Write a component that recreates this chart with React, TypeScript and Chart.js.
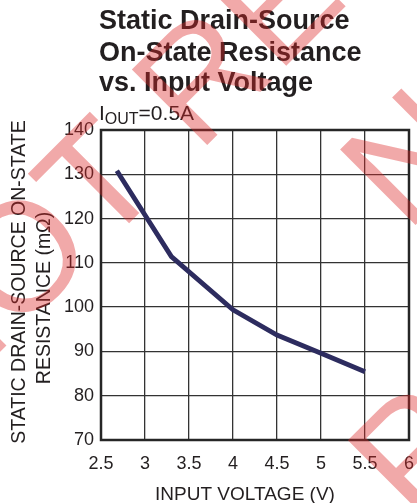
import React, { useEffect, useRef } from "react";
import { Chart, registerables } from "chart.js";

Chart.register(...registerables);

// ---- data ----
const voltage = [2.68, 3.3, 4.0, 4.5, 5.0, 5.5];
const resistance = [130.8, 111.4, 99.4, 93.7, 89.6, 85.4];

const xTickLabels = ["2.5", "3", "3.5", "4", "4.5", "5", "5.5", "6"];
const yTickLabels = ["70", "80", "90", "100", "110", "120", "130", "140"];

const titleLines = ["Static Drain-Source", "On-State Resistance", "vs. Input Voltage"];
const conditionMain = "I";
const conditionSub = "OUT";
const conditionRest = "=0.5A";
const yTitleLines = ["STATIC DRAIN-SOURCE ON-STATE", "RESISTANCE (mΩ)"];
const xTitle = "INPUT VOLTAGE (V)";
const watermarkLines = ["NOT RECOMMENDED", "NEW DESIGNS", "PRODUCT"];

const FONT = '"Liberation Sans", Arial, Helvetica, sans-serif';
const TEXT = "#231f20";

const decor = {
  id: "decor",
  beforeDatasetsDraw(chart: any) {
    const { ctx, chartArea: a } = chart;
    ctx.save();
    ctx.strokeStyle = "#262626";
    ctx.lineWidth = 2.5;
    ctx.strokeRect(a.left, a.top, a.right - a.left, a.bottom - a.top);
    ctx.restore();
  },
  afterDraw(chart: any) {
    const { ctx } = chart;
    ctx.save();
    ctx.fillStyle = TEXT;
    // title
    ctx.font = `bold 27px ${FONT}`;
    ctx.textAlign = "left";
    ctx.textBaseline = "alphabetic";
    const base = [29, 61, 91];
    titleLines.forEach((t, i) => ctx.fillText(t, 99, base[i]));
    // condition
    ctx.font = `21px ${FONT}`;
    ctx.fillText(conditionMain, 99, 120);
    let x = 99 + ctx.measureText(conditionMain).width;
    ctx.font = `16px ${FONT}`;
    ctx.fillText(conditionSub, x, 124);
    x += ctx.measureText(conditionSub).width;
    ctx.font = `21px ${FONT}`;
    ctx.fillText(conditionRest, x, 120);
    // x title
    ctx.font = `19px ${FONT}`;
    ctx.textAlign = "center";
    ctx.fillText(xTitle, 245, 500);
    // y title
    ctx.font = `19.5px ${FONT}`;
    const yPos = [
      { bx: 25, cy: 282 },
      { bx: 50, cy: 298 },
    ];
    yTitleLines.forEach((t, i) => {
      ctx.save();
      ctx.translate(yPos[i].bx, yPos[i].cy);
      ctx.rotate(-Math.PI / 2);
      ctx.textAlign = "center";
      ctx.fillText(t, 0, 0);
      ctx.restore();
    });
    // watermark
    ctx.save();
    ctx.fillStyle = "rgba(220,40,40,0.4)";
    ctx.font = `155px ${FONT}`;
    ctx.textAlign = "left";
    ctx.rotate(-Math.PI / 4);
    const wpos = [
      [-339, 249],
      [122, 453],
      [-78, 664],
    ];
    watermarkLines.forEach((t, i) => ctx.fillText(t, wpos[i][0], wpos[i][1]));
    ctx.restore();
    ctx.restore();
  },
};

export default function App() {
  const ref = useRef<HTMLCanvasElement>(null);
  useEffect(() => {
    document.body.style.margin = "0";
    const chart = new Chart(ref.current as HTMLCanvasElement, {
      type: "line",
      data: {
        datasets: [
          {
            data: voltage.map((v, i) => ({ x: v, y: resistance[i] })),
            borderColor: "#2d2c5f",
            borderWidth: 4.8,
            pointRadius: 0,
            tension: 0,
            fill: false,
          },
        ],
      },
      options: {
        responsive: false,
        animation: false,
        layout: { padding: { top: 130, left: 0, right: 8, bottom: 0 } },
        plugins: {
          legend: { display: false },
          tooltip: { enabled: false },
          title: { display: false },
        },
        scales: {
          x: {
            type: "linear",
            min: 2.5,
            max: 6,
            afterFit: (axis: any) => {
              axis.height = 63;
              axis.paddingLeft = 0;
              axis.paddingRight = 0;
            },
            ticks: {
              stepSize: 0.5,
              padding: 13,
              color: TEXT,
              font: { family: FONT, size: 18 },
              maxRotation: 0,
              autoSkip: false,
              callback: (_v: any, i: number) => xTickLabels[i],
            },
            grid: { color: "#333", lineWidth: 1.3, drawTicks: false },
            border: { display: false },
          },
          y: {
            min: 70,
            max: 140,
            afterFit: (axis: any) => {
              axis.width = 101;
              axis.paddingTop = 0;
              axis.paddingBottom = 0;
            },
            ticks: {
              stepSize: 10,
              padding: 7,
              color: TEXT,
              font: { family: FONT, size: 18 },
              callback: (_v: any, i: number) => yTickLabels[i],
            },
            grid: { color: "#333", lineWidth: 1.3, drawTicks: false },
            border: { display: false },
          },
        },
      },
      plugins: [decor],
    } as any);
    return () => chart.destroy();
  }, []);
  return (
    <div style={{ position: "fixed", left: 0, top: 0, width: 417, height: 503, background: "#fff" }}>
      <canvas ref={ref} width={417} height={503} />
    </div>
  );
}
